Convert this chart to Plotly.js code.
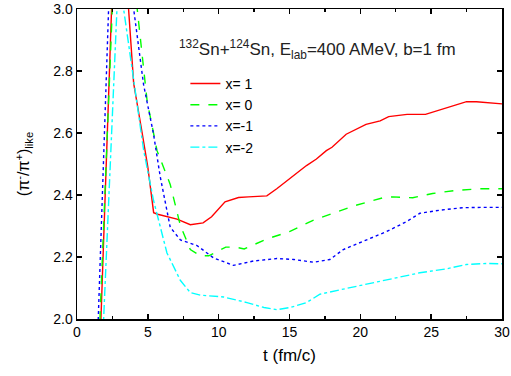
<!DOCTYPE html>
<html>
<head>
<meta charset="utf-8">
<script src="https://cdn.plot.ly/plotly-3.0.1.min.js"></script>
<style>
  body { margin: 0; padding: 0; background: #fff; }
  #chart { width: 511px; height: 376px; }
</style>
</head>
<body>
<div id="chart"></div>
<script>
// pion ratio vs time (values above 3.0 are clipped peaks)
const tX1 = [1.6, 1.69, 2.44, 3.0, 3.64, 4.0, 4.6, 5.0, 5.41, 5.69, 7.06, 8.0, 8.9, 9.5, 10.45, 11.4, 12.1, 13.4, 14.1, 15.3, 16.2, 16.9, 17.6, 18.0, 19.0, 20.4, 21.4, 22.0, 23.3, 24.6, 25.4, 26.6, 27.5, 28.2, 30.0];
const yX1 = [1.87, 2.0, 3.0, 3.7, 3.0, 2.76, 2.6, 2.49, 2.343, 2.338, 2.322, 2.304, 2.31, 2.33, 2.378, 2.392, 2.394, 2.397, 2.42, 2.463, 2.495, 2.516, 2.543, 2.554, 2.596, 2.628, 2.639, 2.653, 2.66, 2.66, 2.671, 2.69, 2.701, 2.701, 2.694];

const tX0 = [1.55, 1.62, 2.49, 3.3, 4.25, 4.95, 5.65, 6.58, 7.3, 8.0, 8.7, 9.3, 10.0, 10.5, 11.2, 11.8, 13.4, 15.0, 16.7, 18.1, 19.7, 21.6, 22.3, 23.7, 25.1, 26.8, 28.5, 30.0];
const yX0 = [1.88, 2.0, 3.0, 3.9, 3.0, 2.703, 2.543, 2.434, 2.301, 2.224, 2.204, 2.204, 2.22, 2.232, 2.232, 2.226, 2.258, 2.282, 2.319, 2.341, 2.367, 2.391, 2.394, 2.391, 2.405, 2.415, 2.42, 2.42];

const tXm1 = [1.42, 1.5, 2.23, 3.1, 4.0, 4.7, 5.4, 5.88, 6.58, 7.3, 8.47, 9.64, 11.05, 12.45, 14.1, 15.3, 16.7, 17.85, 18.8, 20.2, 21.85, 23.25, 24.2, 25.6, 27.2, 28.5, 30.0];
const yXm1 = [1.9, 2.0, 3.0, 4.1, 3.0, 2.756, 2.597, 2.458, 2.296, 2.255, 2.237, 2.197, 2.173, 2.187, 2.195, 2.192, 2.183, 2.192, 2.224, 2.25, 2.282, 2.314, 2.341, 2.351, 2.359, 2.36, 2.36];

const tXm2 = [1.8, 1.88, 2.82, 3.05, 3.29, 3.89, 4.71, 5.4, 6.35, 7.29, 8.0, 8.7, 10.35, 12.0, 13.2, 14.1, 15.05, 16.2, 17.15, 18.55, 20.45, 22.55, 24.2, 26.1, 27.5, 28.9, 30.0];
const yXm2 = [1.9, 2.0, 3.0, 3.25, 3.0, 2.81, 2.543, 2.383, 2.213, 2.125, 2.085, 2.077, 2.071, 2.053, 2.037, 2.03, 2.037, 2.053, 2.08, 2.094, 2.112, 2.133, 2.149, 2.162, 2.176, 2.179, 2.178];

const seriesNames = ["x= 1", "x= 0", "x=-1", "x=-2"];
const yTicks = [2.0, 2.2, 2.4, 2.6, 2.8, 3.0];
const FONT = "Liberation Sans, Arial, sans-serif";

function line(t, y, name, color, dash) {
    return {
        x: t, y: y, name: name,
        type: "scatter", mode: "lines",
        line: { color: color, width: 1.4, dash: dash },
    };
}

const traces = [
    line(tX1, yX1, seriesNames[0], "#ff0000", "solid"),
    line(tX0, yX0, seriesNames[1], "#00ff00", "dash"),
    line(tXm1, yXm1, seriesNames[2], "#0000ff", "dot"),
    line(tXm2, yXm2, seriesNames[3], "#00ffff", "dashdot"),
];

const axisCommon = {
    showline: true, linecolor: "#000", linewidth: 1.5, mirror: "ticks",
    ticks: "inside", ticklen: 5, tickwidth: 1.5, tickcolor: "#000",
    showgrid: false, zeroline: false, ticklabeloverflow: "allow",
    tickfont: { family: FONT, size: 14, color: "#000" },
};

const layout = {
    width: 511, height: 376,
    margin: { l: 77, r: 9, t: 9, b: 57 },
    paper_bgcolor: "#fff", plot_bgcolor: "#fff",
    font: { family: FONT, color: "#000" },
    xaxis: Object.assign({}, axisCommon, {
        range: [0, 30], dtick: 5, tick0: 0,
        minor: { dtick: 2.5, ticks: "inside", ticklen: 3, tickwidth: 1.2, tickcolor: "#000" },
        title: { text: "t (fm/c)", font: { family: FONT, size: 17 }, standoff: 10 },
    }),
    yaxis: Object.assign({}, axisCommon, {
        range: [2.0, 3.0], tickmode: "array", tickvals: yTicks,
        ticktext: yTicks.map((v) => v.toFixed(1)),
        title: { text: "(π<sup>-</sup>/π<sup>+</sup>)<sub>like</sub>", font: { family: FONT, size: 16 }, standoff: 19 },
    }),
    showlegend: true,
    legend: {
        x: 0.255, y: 0.81, xanchor: "left", yanchor: "top",
        bgcolor: "rgba(0,0,0,0)", borderwidth: 0,
        font: { family: FONT, size: 14, color: "#000" },
        tracegroupgap: 0,
    },
    annotations: [{
        xref: "paper", yref: "paper", x: 0.565, y: 0.87,
        xanchor: "center", yanchor: "middle", showarrow: false,
        text: "<sup>132</sup>Sn+<sup>124</sup>Sn, E<sub>lab</sub>=400 AMeV, b=1 fm",
        font: { family: FONT, size: 17, color: "#222" },
    }],
};

Plotly.newPlot("chart", traces, layout, { displayModeBar: false, staticPlot: true });
</script>
</body>
</html>
